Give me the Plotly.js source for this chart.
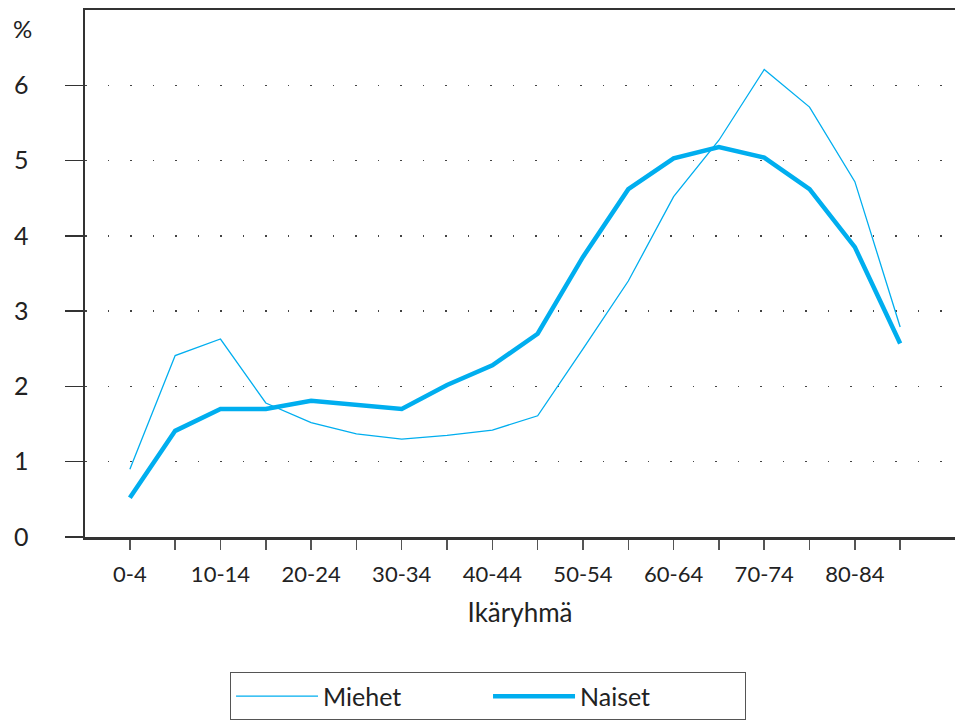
<!DOCTYPE html>
<html>
<head>
<meta charset="utf-8">
<script src="https://cdn.plot.ly/plotly-3.0.1.min.js"></script>
<style>html,body{margin:0;padding:0;background:#fff;}#chart{width:955px;height:724px;}</style>
</head>
<body>
<div id="chart"></div>
<script>
const ageGroups = ["0-4","5-9","10-14","15-19","20-24","25-29","30-34","35-39","40-44","45-49","50-54","55-59","60-64","65-69","70-74","75-79","80-84","85+"];
const tickLabels = ["0-4","","10-14","","20-24","","30-34","","40-44","","50-54","","60-64","","70-74","","80-84",""];
const miehet = [0.90,2.41,2.63,1.78,1.52,1.37,1.30,1.35,1.42,1.61,2.50,3.40,4.52,5.27,6.21,5.71,4.72,2.79];
const naiset = [0.52,1.41,1.70,1.70,1.81,1.75,1.70,2.02,2.28,2.70,3.72,4.62,5.03,5.18,5.04,4.62,3.85,2.57];
const yTicks = [0,1,2,3,4,5,6];

const blue = "#00aeef";
const dark = "#333333";
const font = "Lato, 'Open Sans', sans-serif";

const traces = [
  {x: ageGroups, y: miehet, type: "scatter", mode: "lines", name: "Miehet",
   line: {color: blue, width: 1.3}},
  {x: ageGroups, y: naiset, type: "scatter", mode: "lines", name: "Naiset",
   line: {color: blue, width: 4.5}}
];

const layout = {
  width: 955, height: 724,
  margin: {l: 85, r: 0, t: 10, b: 187},
  paper_bgcolor: "#fff", plot_bgcolor: "#fff",
  font: {family: font, size: 21, color: "#222"},
  showlegend: true,
  legend: {orientation: "h", x: 0.1667, xanchor: "left", y: -0.257, yanchor: "top",
           bordercolor: "#555", borderwidth: 1, itemwidth: 82, entrywidth: 160,
           font: {family: font, size: 25, color: "#222"}},
  xaxis: {type: "category", range: [-0.99, 18.21], tickmode: "array",
          tickvals: ageGroups, ticktext: tickLabels,
          showline: true, linecolor: dark, linewidth: 2.5, mirror: true,
          ticks: "outside", ticklen: 10, tickwidth: 1.5, tickcolor: "#555",
          showgrid: false, zeroline: false,
          tickfont: {family: font, size: 22, color: "#222"},
          ticklabelstandoff: 6,
          title: {text: "Ikäryhmä", font: {family: font, size: 26, color: "#222"}, standoff: 18}},
  yaxis: {range: [0, 7], tickmode: "array", tickvals: yTicks,
          ticktext: yTicks.map(String),
          showline: true, linecolor: dark, linewidth: 2.5,
          ticks: "outside", ticklen: 18, tickwidth: 1.5, tickcolor: dark,
          showgrid: true, gridcolor: "#444", gridwidth: 1.5, griddash: "1.5px,21px",
          zeroline: false,
          tickfont: {family: font, size: 25, color: "#222"},
          ticklabelstandoff: 31},
  annotations: [{text: "%", xref: "paper", yref: "paper", x: -0.0724, y: 0.964,
                 xanchor: "center", yanchor: "middle",
                 showarrow: false, font: {family: font, size: 24, color: "#222"}}]
};

Plotly.newPlot("chart", traces, layout, {displayModeBar: false, staticPlot: true});
</script>
</body>
</html>
